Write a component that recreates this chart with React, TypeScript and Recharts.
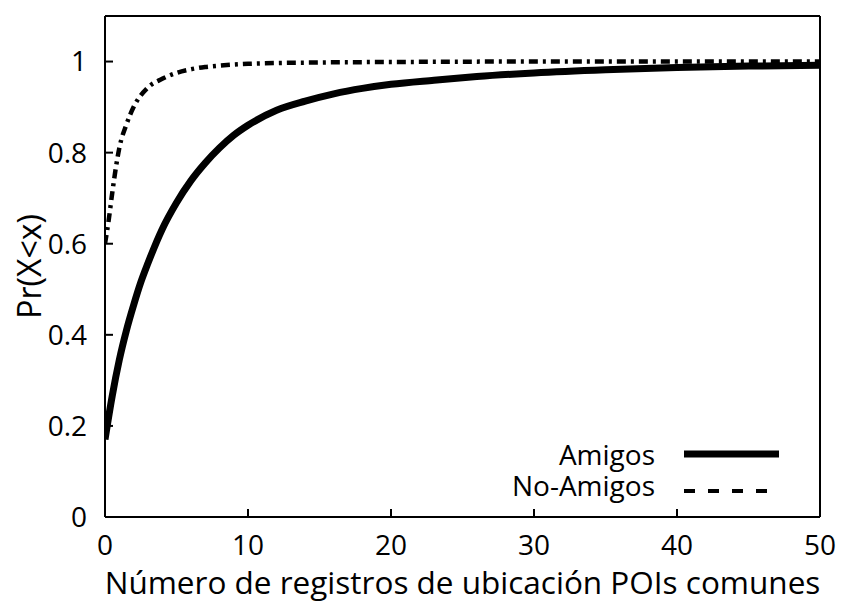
import { LineChart, Line, XAxis, YAxis, Label } from "recharts";

// Amigos CDF
const amigosX = [0, 0.5, 1, 1.5, 2, 2.5, 3, 4, 5, 6, 7, 8, 9, 10, 12, 14, 16, 18, 20, 23, 26, 30, 35, 40, 45, 50];
const amigosY = [0.17, 0.265, 0.345, 0.41, 0.465, 0.515, 0.557, 0.632, 0.69, 0.738, 0.777, 0.81, 0.838, 0.86, 0.893, 0.913, 0.929, 0.941, 0.95, 0.959, 0.967, 0.975, 0.982, 0.987, 0.99, 0.992];

// No-Amigos CDF
const noAmigosX = [0, 0.25, 0.5, 0.75, 1, 1.5, 2, 3, 4, 5, 6, 7, 8, 10, 15, 20, 30, 40, 50];
const noAmigosY = [0.6, 0.65, 0.71, 0.765, 0.81, 0.862, 0.9, 0.943, 0.962, 0.975, 0.983, 0.988, 0.991, 0.995, 0.998, 0.999, 1, 1, 1];

const xTicks = [0, 10, 20, 30, 40, 50];
const yTicks = [0, 0.2, 0.4, 0.6, 0.8, 1];

const amigos = amigosX.map((x, i) => ({ x, y: amigosY[i] }));
const noAmigos = noAmigosX.map((x, i) => ({ x, y: noAmigosY[i] }));

const font = "'Open Sans', sans-serif";
const tickStyle = { fill: "#000", fontSize: 28, fontFamily: font };

const YLabel = (props: any) => {
  const vb = props.viewBox;
  const cy = vb.y + vb.height / 2;
  return (
    <text
      x={28}
      y={cy}
      transform={`rotate(-90 28 ${cy})`}
      textAnchor="middle"
      dominantBaseline="central"
      fontSize={32}
      fontFamily={font}
      fill="#000"
    >
      Pr(X&lt;x)
    </text>
  );
};

export default function App() {
  return (
    <div style={{ position: "absolute", left: 0, top: 0, width: 843, height: 602, background: "#fff" }}>
      <LineChart width={843} height={602} margin={{ top: 15, right: 22, bottom: 0, left: 0 }}>
        <XAxis
          xAxisId="b"
          dataKey="x"
          type="number"
          domain={[0, 50]}
          ticks={xTicks}
          allowDataOverflow
          height={85}
          tickSize={-8}
          tickMargin={26}
          tick={tickStyle}
          axisLine={{ stroke: "#000", strokeWidth: 2 }}
          tickLine={{ stroke: "#000", strokeWidth: 2 }}
        >
          <Label
            value="Número de registros de ubicación POIs comunes"
            position="insideBottom"
            offset={8}
            style={{ fill: "#000", fontSize: 31.5, fontFamily: font }}
          />
        </XAxis>
        <XAxis
          xAxisId="t"
          orientation="top"
          dataKey="x"
          type="number"
          domain={[0, 50]}
          ticks={xTicks}
          height={1}
          tickSize={-8}
          tick={false}
          axisLine={{ stroke: "#000", strokeWidth: 2 }}
          tickLine={{ stroke: "#000", strokeWidth: 2 }}
        />
        <YAxis
          yAxisId="l"
          type="number"
          domain={[0, 1.1]}
          ticks={yTicks}
          allowDataOverflow
          width={105}
          tickSize={-8}
          tickMargin={26}
          tick={tickStyle}
          axisLine={{ stroke: "#000", strokeWidth: 2 }}
          tickLine={{ stroke: "#000", strokeWidth: 2 }}
          label={<YLabel />}
        />
        <YAxis
          yAxisId="r"
          orientation="right"
          type="number"
          domain={[0, 1.1]}
          ticks={yTicks}
          width={1}
          tickSize={-8}
          tick={false}
          axisLine={{ stroke: "#000", strokeWidth: 2 }}
          tickLine={{ stroke: "#000", strokeWidth: 2 }}
        />
        <Line
          xAxisId="b"
          yAxisId="l"
          data={noAmigos}
          dataKey="y"
          type="monotone"
          stroke="#000"
          strokeWidth={4.5}
          strokeDasharray="9 5 3 5"
          dot={false}
          isAnimationActive={false}
        />
        <Line
          xAxisId="b"
          yAxisId="l"
          data={amigos}
          dataKey="y"
          type="monotone"
          stroke="#000"
          strokeWidth={7}
          dot={false}
          isAnimationActive={false}
        />
      </LineChart>
      <svg width={843} height={602} style={{ position: "absolute", left: 0, top: 0, pointerEvents: "none" }}>
        <text x={655} y={465} textAnchor="end" fontSize={28} fontFamily={font} fill="#000">
          Amigos
        </text>
        <line x1={684} x2={779} y1={454} y2={454} stroke="#000" strokeWidth={7} />
        <text x={655} y={496} textAnchor="end" fontSize={28} fontFamily={font} fill="#000">
          No-Amigos
        </text>
        <line x1={684} x2={768} y1={491} y2={491} stroke="#000" strokeWidth={4} strokeDasharray="11 13" />
      </svg>
    </div>
  );
}
